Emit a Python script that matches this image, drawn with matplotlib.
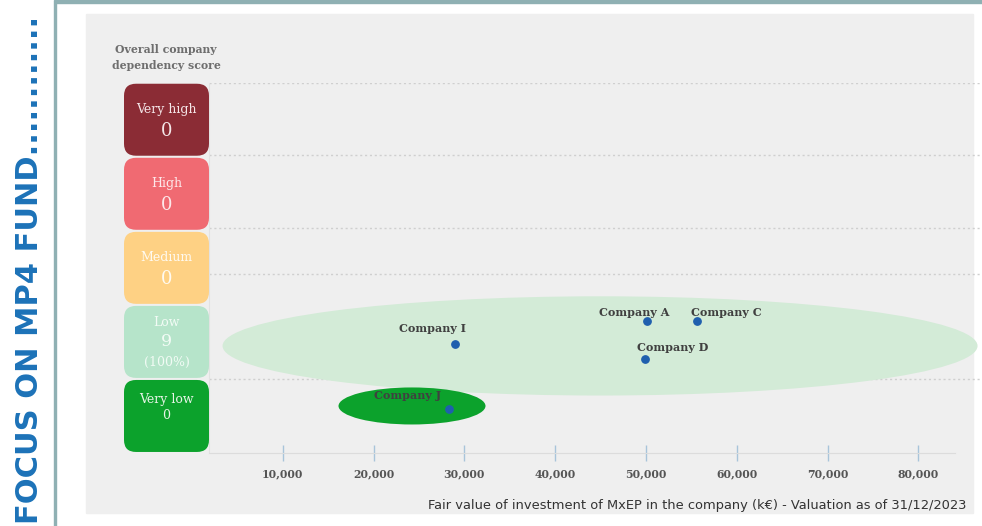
import numpy as np
import matplotlib
matplotlib.use('Agg')
from matplotlib import pyplot as plt
from matplotlib.patches import Rectangle, Ellipse, FancyBboxPatch

# companies: fair value (k EUR) and dependency position (1 = very low ... 5 = very high)
companies = ['Company A', 'Company C', 'Company D', 'Company I', 'Company J']
fair_values = [50100, 55600, 49900, 29000, 28300]
dependency = [2.28, 2.28, 1.77, 1.97, 1.09]
label_offsets = [(-9, 6.5), (21.5, 6.5), (20, 8.5), (-16, 11.5), (-29.5, 10)]

# score categories, bottom to top
levels = ['Very low', 'Low', 'Medium', 'High', 'Very high']
level_counts = ['0', '9', '0', '0', '0']
level_share = ['', '(100%)', '', '', '']
level_colors = ['#0ca22c', '#b6e4ca', '#fed184', '#f06a72', '#8b2c35']
level_text = ['#e8f5e8', '#f2fbf5', '#fffaf0', '#fde8ea', '#f5e6e8']

# groupings drawn as ellipses: (center x, center y, width, height, colour)
groups_x = [44950, 24240]
groups_y = [1.946, 1.135]
groups_w = [83150, 16190]
groups_h = [1.34, 0.50]
groups_c = ['#d3ebd7', '#0ca22c']

gridlines = [1.5, 2.92, 3.54, 4.52, 5.5]
xticks = [10000, 20000, 30000, 40000, 50000, 60000, 70000, 80000]

W, H = 982, 526
fig = plt.figure(figsize=(W / 100, H / 100), dpi=100)
fig.patch.set_facecolor('white')

def fx(px):
    return px / W

def fy(py):
    return 1 - py / H

# page frame and grey panel
fig.add_artist(Rectangle((fx(86), fy(513)), fx(973) - fx(86), fy(14) - fy(513),
                         transform=fig.transFigure, color='#efefef', zorder=0))
fig.add_artist(Rectangle((fx(55), fy(3)), 1 - fx(55), fy(0) - fy(3),
                         transform=fig.transFigure, color='#8fb0b3', zorder=1))
fig.add_artist(Rectangle((fx(54), 0), fx(2), 1,
                         transform=fig.transFigure, color='#8fb0b3', zorder=1))

fig.text(fx(30), fy(524), 'FOCUS ON MP4 FUND............', rotation=90, ha='center', va='bottom',
         fontsize=22, fontweight='bold', color='#1c72b8', family='DejaVu Sans')

ax = fig.add_axes([fx(209), fy(453), fx(980) - fx(209), fy(82.7) - fy(453)])
ax.set_facecolor('none')
xmin, xmax = 1883, 86795
ymin, ymax = 0.5, 5.5
ax.set_xlim(xmin, xmax)
ax.set_ylim(ymin, ymax)

for g in gridlines:
    ax.axhline(g, color='#cfcfcf', lw=1, ls=(0, (1.5, 2)), zorder=1)

for i in range(len(groups_x)):
    ax.add_patch(Ellipse((groups_x[i], groups_y[i]), groups_w[i], groups_h[i],
                         color=groups_c[i], lw=0, zorder=2))

ax.scatter(fair_values, dependency, s=28, color='#1f5fae', zorder=4)
for name, xv, yv, off in zip(companies, fair_values, dependency, label_offsets):
    ax.annotate(name, (xv, yv), xytext=off, textcoords='offset points',
                ha='center', va='center', fontsize=8, fontweight='bold', color='#404040',
                family='DejaVu Serif', zorder=5)

# rounded score boxes left of the axis
ax_w_px = (fx(980) - fx(209)) * W
ax_h_px = (fy(82.7) - fy(453)) * H
x_per_px = (xmax - xmin) / ax_w_px
y_per_px = (ymax - ymin) / ax_h_px
box_left = xmin - 85 * x_per_px
box_w = 85 * x_per_px
box_h = 72 * y_per_px
for i, lvl in enumerate(levels):
    yc = i + 1
    box = FancyBboxPatch((box_left, yc - box_h / 2), box_w, box_h,
                         boxstyle='round,pad=0,rounding_size=%f' % (12 * x_per_px),
                         mutation_aspect=y_per_px / x_per_px,
                         color=level_colors[i], lw=0, clip_on=False, zorder=3)
    ax.add_patch(box)
    xc = box_left + box_w / 2
    tc = level_text[i]
    if level_share[i]:
        ax.text(xc, yc + 19 * y_per_px, lvl, ha='center', va='center', fontsize=9,
                color=tc, family='DejaVu Serif', clip_on=False)
        ax.text(xc, yc, level_counts[i], ha='center', va='center', fontsize=12.5,
                color=tc, family='DejaVu Serif', clip_on=False)
        ax.text(xc, yc - 21 * y_per_px, level_share[i], ha='center', va='center', fontsize=9,
                color=tc, family='DejaVu Serif', clip_on=False)
    elif lvl == 'Very low':
        ax.text(xc, yc + 16 * y_per_px, lvl, ha='center', va='center', fontsize=9,
                color=tc, family='DejaVu Serif', clip_on=False)
        ax.text(xc, yc - 0 * y_per_px, level_counts[i], ha='center', va='center', fontsize=9,
                color=tc, family='DejaVu Serif', clip_on=False)
    else:
        ax.text(xc, yc + 10 * y_per_px, lvl, ha='center', va='center', fontsize=9,
                color=tc, family='DejaVu Serif', clip_on=False)
        ax.text(xc, yc - 11 * y_per_px, level_counts[i], ha='center', va='center', fontsize=13,
                color=tc, family='DejaVu Serif', clip_on=False)

fig.text(fx(166), fy(57.5), 'Overall company\ndependency score', ha='center', va='center',
         fontsize=7.8, fontweight='bold', color='#6e6e6e', family='DejaVu Serif', linespacing=1.45)

ax.set_xticks(xticks)
ax.set_xticklabels(['{:,}'.format(t) for t in xticks], fontsize=7.8, fontweight='bold',
                   color='#555555', family='DejaVu Serif')
ax.tick_params(axis='x', direction='inout', length=11.5, width=1, color='#a8c4da', pad=5)
ax.set_yticks([])
for s in ['top', 'right']:
    ax.spines[s].set_visible(False)
ax.spines['bottom'].set_bounds(xmin, 84000)
ax.spines['bottom'].set_color('#dcdcdc')
ax.spines['left'].set_color('#e2e2e2')

fig.text(fx(966), fy(505), 'Fair value of investment of MxEP in the company (k€) - Valuation as of 31/12/2023',
         ha='right', va='center', fontsize=9.4, color='#333333', family='DejaVu Sans')

fig.savefig('out.png', dpi=100, facecolor='white')
